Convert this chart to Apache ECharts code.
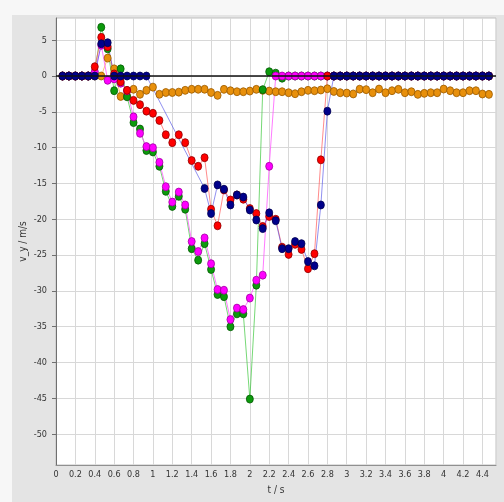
<!DOCTYPE html>
<html><head><meta charset="utf-8">
<script src="https://cdn.jsdelivr.net/npm/echarts@6/dist/echarts.min.js"></script>
<style>html,body{margin:0;padding:0;background:#e4e4e4}#c{width:504px;height:502px}</style>
</head><body><div id="c"></div>
<script>
// frame times (s), 15 frames per second
const times = [0.067,0.133,0.2,0.267,0.333,0.4,0.467,0.533,0.6,0.667,0.733,0.8,0.867,0.933,1.0,1.067,1.133,1.2,1.267,1.333,1.4,1.467,1.533,1.6,1.667,1.733,1.8,1.867,1.933,2.0,2.067,2.133,2.2,2.267,2.333,2.4,2.467,2.533,2.6,2.667,2.733,2.8,2.867,2.933,3.0,3.067,3.133,3.2,3.267,3.333,3.4,3.467,3.533,3.6,3.667,3.733,3.8,3.867,3.933,4.0,4.067,4.133,4.2,4.267,4.333,4.4,4.467];

const vyOrange = [0,0,0,0,0,0,0,2.5,1.0,-2.85,-2.8,-1.85,-2.55,-2.0,-1.55,-2.55,-2.3,-2.3,-2.25,-2.0,-1.85,-1.85,-1.85,-2.3,-2.7,-1.86,-2.05,-2.19,-2.19,-2.1,-1.86,-2.0,-2.1,-2.19,-2.19,-2.33,-2.47,-2.19,-2.0,-2.05,-1.95,-1.77,-2.15,-2.33,-2.38,-2.5,-1.84,-1.9,-2.33,-1.82,-2.33,-2.05,-1.86,-2.33,-2.19,-2.56,-2.42,-2.33,-2.33,-1.82,-2.05,-2.33,-2.33,-2.05,-2.05,-2.51,-2.56];

const vyGreen = [0,0,0,0,0,0.3,6.8,3.8,-2.05,1.0,-2.9,-6.5,-7.4,-10.4,-10.6,-12.6,-16.1,-18.2,-16.8,-18.6,-24.1,-25.7,-23.4,-27.0,-30.5,-30.8,-35.0,-33.2,-33.2,-45.1,-29.2,-1.9,0.6,0.4,-0.3,0,0,0,0,0,0,0,0,0,0,0,0,0,0,0,0,0,0,0,0,0,0,0,0,0,0,0,0,0,0,0,0];

const vyMagenta = [0,0,0,0,0,0.6,4.3,-0.6,-0.4,-1.0,-2.05,-5.7,-8.0,-9.85,-10.0,-12.05,-15.45,-17.6,-16.2,-18.0,-23.1,-24.5,-22.6,-26.2,-29.8,-29.9,-34.0,-32.4,-32.6,-31.0,-28.5,-27.8,-12.6,0,0,0,0,0,0,0,0,0,0,0,0,0,0,0,0,0,0,0,0,0,0,0,0,0,0,0,0,0,0,0,0,0,0];

const vyRed = [0,0,0,0,0,1.3,5.4,4.1,0.3,-0.8,-2.0,-3.4,-4.0,-4.9,-5.2,-6.2,-8.2,-9.3,-8.2,-9.3,-11.8,-12.6,-11.4,-18.6,-20.9,-15.9,-17.3,-16.6,-17.2,-18.5,-19.2,-21.0,-19.6,-20.0,-23.9,-24.9,-23.5,-24.2,-26.9,-24.8,-11.7,0,0,0,0,0,0,0,0,0,0,0,0,0,0,0,0,0,0,0,0,0,0,0,0,0,0];

const vyBlue = [0,0,0,0,0,0,4.5,4.65,0,0,0,0,0,0,null,null,null,null,null,null,null,null,-15.7,-19.2,-15.2,-15.8,-18.0,-16.6,-16.9,-18.7,-20.1,-21.3,-19.1,-20.2,-24.1,-24.1,-23.1,-23.4,-25.9,-26.5,-18.0,-4.9,0,0,0,0,0,0,0,0,0,0,0,0,0,0,0,0,0,0,0,0,0,0,0,0,0];

const yTickValues = [5,0,-5,-10,-15,-20,-25,-30,-35,-40,-45,-50];

const fam = "'Liberation Sans Narrow','DejaVu Sans Condensed','Liberation Sans',sans-serif";

function mk(name, vals, fill, border, line, extra) {
  return Object.assign({
    name, type: 'line',
    data: vals.map((v, k) => [times[k], v]),
    connectNulls: true,
    symbol: 'circle', symbolSize: [7, 8], showSymbol: true,
    itemStyle: { color: fill, borderColor: border, borderWidth: 0.8 },
    lineStyle: { color: line, width: 1 },
    emphasis: { disabled: true },
    animation: false
  }, extra || {});
}

const chart = echarts.init(document.getElementById('c'), null, { renderer: 'canvas' });
chart.setOption({
  backgroundColor: '#e4e4e4',
  animation: false,
  graphic: [
    { type: 'rect', left: 0, top: 0, shape: { width: 504, height: 15 }, style: { fill: '#f7f7f7' }, silent: true },
    { type: 'rect', left: 0, top: 0, shape: { width: 12, height: 502 }, style: { fill: '#f7f7f7' }, silent: true }
  ],
  grid: { left: 56, top: 18, right: 8, bottom: 37, show: true, backgroundColor: '#ffffff', borderColor: '#c0c0c0', borderWidth: 1 },
  xAxis: {
    type: 'value', min: 0, max: 4.54, interval: 0.2,
    name: 't / s', nameLocation: 'middle', nameGap: 20, nameMoveOverlap: false,
    nameTextStyle: { fontSize: 10, color: '#333', fontFamily: fam },
    axisLine: { show: true, onZero: false, lineStyle: { color: '#909090' } },
    axisTick: { show: false },
    axisLabel: { fontSize: 9, color: '#333', fontFamily: fam, margin: 5,
      formatter: v => (v > 4.45 ? '' : String(+v.toFixed(1))) },
    splitLine: { show: true, lineStyle: { color: '#d8d8d8', width: 1 } }
  },
  yAxis: {
    type: 'value', min: -54.3, max: 8.1,
    name: 'v_y / m/s', nameLocation: 'middle', nameGap: 28, nameRotate: 90, nameMoveOverlap: false,
    nameTextStyle: { fontSize: 10, color: '#333', fontFamily: fam },
    axisLine: { show: true, onZero: false, lineStyle: { color: '#707070' } },
    axisTick: { show: true, length: 4, customValues: yTickValues, lineStyle: { color: '#707070' } },
    axisLabel: { customValues: yTickValues, fontSize: 9, color: '#333', fontFamily: fam, margin: 9 },
    splitLine: { show: true, lineStyle: { color: '#d8d8d8', width: 1 } }
  },
  series: [
    mk('orange', vyOrange, '#e8900c', '#9a5a00', 'rgba(255,165,60,0.7)', {
      markLine: { silent: true, symbol: ['none', 'none'], label: { show: false },
        lineStyle: { color: '#111111', width: 1.5, type: 'solid' }, data: [{ yAxis: 0 }], animation: false }
    }),
    mk('green', vyGreen, '#0c9a0c', '#045a04', 'rgba(60,200,60,0.7)'),
    mk('magenta', vyMagenta, '#ff00ff', '#a000a0', 'rgba(255,90,255,0.8)'),
    mk('red', vyRed, '#ff0000', '#900000', 'rgba(255,90,90,0.7)'),
    mk('blue', vyBlue, '#00008b', '#000050', 'rgba(70,70,230,0.6)')
  ]
});
</script>
</body></html>
